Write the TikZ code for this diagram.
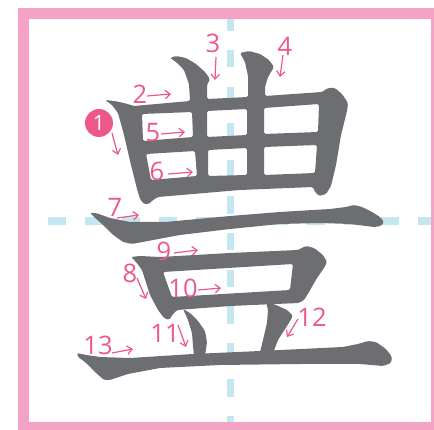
\documentclass[tikz,border=0pt]{standalone}
\usepackage{fontspec}
\setmainfont{Open Sans}
\usetikzlibrary{arrows.meta}
\definecolor{strokegray}{RGB}{109,110,114}
\definecolor{numpink}{RGB}{236,88,138}
\definecolor{framepink}{RGB}{244,162,198}
\definecolor{guideblue}{RGB}{196,230,240}
\begin{document}
\begin{tikzpicture}[x=1pt,y=-1pt,
  num/.style={text=numpink,font=\fontsize{25.5}{25.5}\selectfont,inner sep=0pt},
  arr/.style={numpink,line width=1.2pt,-{Straight Barb[length=5pt,width=8.5pt]}},
  brush/.style={fill=strokegray,rounded corners=1.5pt},
  guide/.style={guideblue,line width=7.5pt}]
  \useasboundingbox (0,0) rectangle (434,430);
  \clip (0,0) rectangle (434,430);
  \draw[guide,dash pattern=on 17.5pt off 19.1pt,dash phase=5.6pt] (230.5,19) -- (230.5,422);
  \draw[guide,dash pattern=on 18pt off 19pt,dash phase=18pt] (29,221) -- (431,221);
  \draw[framepink,line width=11pt] (23.5,13.5) rectangle (436.5,427.5);
  \fill[brush,even odd rule] (105,100) -- (114,101) -- (124,103) -- (134,106) -- (190,101)
    -- (189,84) -- (184,70) -- (176,62) -- (170,58) -- (176,56) -- (186,58) -- (196,64)
    -- (205,72) -- (210,79) -- (207,85) -- (207,99) -- (248,97) -- (248,76) -- (245,62)
    -- (240,53) -- (249,51) -- (260,54) -- (269,60) -- (274,67) -- (268,77) -- (265,87)
    -- (265,96) -- (322,92) -- (328,88) -- (335,88) -- (342,94) -- (348,103) -- (347,111)
    -- (341,135) -- (336,165) -- (331,186) -- (326,194) -- (319,196) -- (315,192)
    -- (313,187) -- (240,190) -- (158,197) -- (153,200) -- (149,204) -- (144,204)
    -- (140,199) -- (137,189) -- (131,165) -- (124,135) -- (118,113) -- (112,105) -- cycle
    (142,114) -- (192,112) -- (193,137) -- (143,141) -- cycle
    (207,111) -- (247,109) -- (247,135) -- (207,137) -- cycle
    (264,108) -- (319,104) -- (318,132) -- (264,134) -- cycle
    (146,154) -- (195,151) -- (197,176) -- (151,180) -- cycle
    (208,150) -- (247,148) -- (247,175) -- (208,176) -- cycle
    (264,147) -- (317,145) -- (315,173) -- (264,175) -- cycle;
  \fill[brush] (90,213) -- (96,213) -- (110,218) -- (130,222) -- (165,222) -- (230,216)
    -- (280,212) -- (330,209) -- (346,207) -- (354,205) -- (362,207) -- (372,212)
    -- (380,217) -- (384,222) -- (381,226) -- (374,227) -- (350,224) -- (320,223)
    -- (280,224) -- (230,229) -- (180,235) -- (148,241) -- (132,244) -- (123,242)
    -- (112,234) -- (102,224) -- (93,216) -- cycle;
  \fill[brush,even odd rule] (131,257) -- (140,256) -- (160,257) -- (230,253) -- (298,250)
    -- (306,246) -- (314,248) -- (323,255) -- (327,262) -- (324,268) -- (317,278)
    -- (309,292) -- (304,300) -- (299,303) -- (230,306) -- (177,310) -- (173,314)
    -- (169,320) -- (164,318) -- (158,310) -- (150,295) -- (142,270) -- (136,262) -- cycle
    (163,272) -- (293,264) -- (290,290) -- (172,297) -- cycle;
  \fill[brush] (183,309) -- (190,313) -- (198,321) -- (205,331) -- (207,342) -- (205,356)
    -- (194,356) -- (193,346) -- (192,333) -- (188,320) -- cycle;
  \fill[brush] (266,302) -- (276,305) -- (287,310) -- (293,316) -- (287,326) -- (278,340)
    -- (272,356) -- (259,356) -- (263,340) -- (267,323) -- (268,310) -- cycle;
  \fill[brush] (77,353) -- (86,355) -- (100,357) -- (130,358) -- (193,354) -- (260,351)
    -- (343,347) -- (358,344) -- (368,341) -- (376,342) -- (386,349) -- (392,357)
    -- (391,363) -- (383,366) -- (360,364) -- (300,364) -- (220,365) -- (160,368)
    -- (128,374) -- (110,380) -- (104,380) -- (95,372) -- (85,362) -- (78,357) -- cycle;
  \node[circle,fill=numpink,text=white,minimum size=28pt,inner sep=0pt,
    font=\fontsize{21}{21}\selectfont] (n1) at (99,123) {1};
  \foreach \n/\x/\y in {2/140/94,3/213/43,4/285/46,5/153/133,6/157/171,7/115/207,
    8/130/273,9/164/251,10/183/288,11/165/333,12/312/317,13/98/345}
    {\node[num] (n\n) at (\x,\y) {\n};}
  \foreach \n/\ax/\ay/\bx/\by in {1/112/133/118/155,2/147/96/171/94,3/216/57/215/80,
    4/283/55/280/77,5/161/134/185/132,6/168/174/193/172,7/117/218/139/215,
    8/137/278/146/299,9/174/253/198/250,10/198/290/221/288,11/178/325/186/347,
    12/298/319/287/337,13/112/353/133/349}
    {\coordinate (s\n) at (\ax,\ay); \coordinate (e\n) at (\bx,\by);
     \draw[arr] (s\n) -- (e\n);}
\end{tikzpicture}
\end{document}
